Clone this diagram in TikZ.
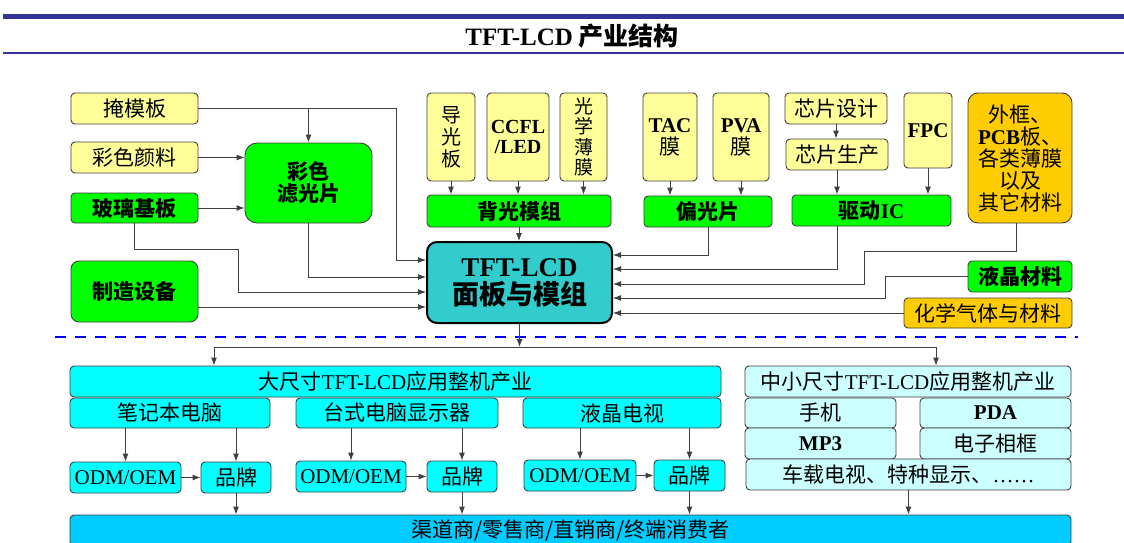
\documentclass[tikz,border=0pt]{standalone}
\usepackage{fontspec}
\setmainfont{Noto Sans CJK SC}
\newfontfamily\latfont{Liberation Serif}
\newcommand\lat[1]{{\latfont #1}}
\usetikzlibrary{arrows.meta}
\definecolor{rawyellow}{HTML}{FFFF99}
\definecolor{partgreen}{HTML}{00FF00}
\definecolor{panelteal}{HTML}{33CCCC}
\definecolor{matorange}{HTML}{FFCC00}
\definecolor{largecyan}{HTML}{00FFFF}
\definecolor{smallcyan}{HTML}{CCFFFF}
\definecolor{chancyan}{HTML}{00CCFF}
\definecolor{headblue}{HTML}{333399}
\definecolor{wire}{HTML}{404040}
\tikzset{
  box/.style={draw=black!75, line width=0.9pt, rounded corners=4pt, inner sep=0pt,
    align=center, font=\fontsize{21}{22}\selectfont},
  wh/.style 2 args={minimum width=#1pt, minimum height=#2pt},
  rawbox/.style={box, fill=rawyellow},
  partbox/.style={box, fill=partgreen, font=\fontsize{21}{22}\selectfont\bfseries},
  matbox/.style={box, fill=matorange, rounded corners=10pt},
  appbox/.style={box, fill=largecyan},
  minibox/.style={box, fill=smallcyan},
  feed/.style={draw=wire, line width=0.9pt, -{Latex[length=8pt,width=6pt]}},
}
\begin{document}
\begin{tikzpicture}[x=1pt,y=1pt]
\useasboundingbox (0,0) rectangle (1124,-543);
\clip (0,0) rectangle (1124,-543);
\fill[white] (0,0) rectangle (1124,-543);
% heading
\fill[headblue] (3,-14) rectangle (1124,-19);
\draw[headblue, line width=1.5pt] (3,-53) -- (1124,-53);
\node[font=\fontsize{25}{26}\selectfont\bfseries] (title) at (572,-36) {\lat{TFT-LCD} 产业结构};
% upstream materials
\node[rawbox, wh={127}{31}] (mask) at (134.5,-108.5) {掩模板};
\node[rawbox, wh={127}{31}] (pigment) at (134.5,-157.5) {彩色颜料};
\node[partbox, wh={127}{30}] (glass) at (134.5,-208) {玻璃基板};
\node[partbox, wh={127}{61}, rounded corners=8pt] (equip) at (134.5,-291.5) {制造设备};
\node[partbox, wh={127}{80}, rounded corners=12pt] (filter) at (308.5,-183) {彩色\\滤光片};
\node[rawbox, wh={48}{88}, font=\fontsize{20}{22}\selectfont] (guide) at (451,-137) {导\\光\\板};
\node[rawbox, wh={62}{88}, font=\fontsize{20}{20}\selectfont\latfont\bfseries] (lamp) at (518,-137) {CCFL\\/LED};
\node[rawbox, wh={47}{88}, font=\fontsize{19}{20.5}\selectfont] (optic) at (583.5,-137) {光\\学\\薄\\膜};
\node[partbox, wh={184}{32}] (backlight) at (519,-211) {背光模组};
\node[draw=black, line width=2pt, fill=panelteal, rounded corners=10pt, wh={185}{81}, align=center,
  font=\fontsize{27}{28}\selectfont\bfseries] (panel) at (519.5,-282.5) {\lat{TFT-LCD}\\面板与模组};
\node[rawbox, wh={54}{88}] (tac) at (670,-137) {\lat{\bfseries TAC}\\膜};
\node[rawbox, wh={56}{88}] (pva) at (741,-137) {\lat{\bfseries PVA}\\膜};
\node[partbox, wh={128}{31}] (polar) at (708,-211.5) {偏光片};
\node[rawbox, wh={102}{31}] (design) at (836,-108.5) {芯片设计};
\node[rawbox, wh={102}{31}] (fab) at (837,-154.5) {芯片生产};
\node[rawbox, wh={48}{75}] (fpc) at (928,-130.5) {\lat{\bfseries FPC}};
\node[partbox, wh={159}{31}] (driver) at (871.5,-210.5) {驱动\lat{IC}};
\node[matbox, wh={104}{130}] (frame) at (1020,-158) {外框、\\\lat{\bfseries PCB}板、\\各类薄膜\\以及\\其它材料};
\node[partbox, wh={104}{31}] (crystal) at (1020,-276.5) {液晶材料};
\node[matbox, rounded corners=4pt, wh={168}{30}] (gas) at (988,-313) {化学气体与材料};
% into the colour filter and the panel
\draw[feed] (mask.east) -- (396,-108.5) |- ([yshift=22.5]panel.west);
\draw[feed] (filter.north |- mask.east) -- (filter.north);
\draw[feed] (pigment.east) -- (pigment.east -| filter.west);
\draw[feed] (glass.east) -- (glass.east -| filter.west);
\draw[feed] (glass.south) |- (238,-249) |- ([yshift=-9.5]panel.west);
\draw[feed] (filter.south) |- ([yshift=5.5]panel.west);
\draw[feed] ([yshift=-15.5]equip.east) -- ([yshift=-24.5]panel.west);
\draw[feed] (guide.south) -- (guide.south |- backlight.north);
\draw[feed] (lamp.south) -- (lamp.south |- backlight.north);
\draw[feed] (optic.south) -- (optic.south |- backlight.north);
\draw[feed] (backlight.south) -- (backlight.south |- panel.north);
\draw[feed] (tac.south) -- (tac.south |- polar.north);
\draw[feed] (pva.south) -- (pva.south |- polar.north);
\draw[feed] (design.south) -- (design.south |- fab.north);
\draw[feed] (fab.south) -- (fab.south |- driver.north);
\draw[feed] (fpc.south) -- (fpc.south |- driver.north);
\draw[feed] (polar.south) |- ([yshift=27.5]panel.east);
\draw[feed] (fab.south |- driver.south) |- ([yshift=13.5]panel.east);
\draw[feed] ([xshift=-4]frame.south) |- (864,-251) |- ([yshift=-1.5]panel.east);
\draw[feed] (crystal.west) -- (885,-276.5) |- ([yshift=-15.5]panel.east);
\draw[feed] (gas.west) -- (gas.west -| panel.east);
\draw[blue, line width=2.5pt, dash pattern=on 11pt off 9pt] (55,-337) -- (1078,-337);
% downstream applications
\node[appbox, wh={651}{31}] (large) at (395.5,-381.5) {大尺寸\lat{TFT-LCD}应用整机产业};
\node[appbox, wh={200}{30}] (laptop) at (170,-413) {笔记本电脑};
\node[appbox, wh={202}{30}] (desktop) at (397,-413) {台式电脑显示器};
\node[appbox, wh={198}{30}] (tv) at (622,-413) {液晶电视};
\node[appbox, wh={111}{31}] (odma) at (125.5,-477.5) {\lat{ODM/OEM}};
\node[appbox, wh={70}{31}] (branda) at (236,-477.5) {品牌};
\node[appbox, wh={110}{31}] (odmb) at (351,-476.5) {\lat{ODM/OEM}};
\node[appbox, wh={70}{31}] (brandb) at (462,-476.5) {品牌};
\node[appbox, wh={112}{31}] (odmc) at (580,-475.5) {\lat{ODM/OEM}};
\node[appbox, wh={71}{31}] (brandc) at (689.5,-475.5) {品牌};
\node[minibox, wh={326}{31}] (small) at (908,-381.5) {中小尺寸\lat{TFT-LCD}应用整机产业};
\node[minibox, wh={151}{30}] (phone) at (820.5,-413) {手机};
\node[minibox, wh={151}{30}] (pda) at (995.5,-413) {\lat{\bfseries PDA}};
\node[minibox, wh={151}{31}] (mp3) at (820.5,-443.5) {\lat{\bfseries MP3}};
\node[minibox, wh={151}{31}] (photo) at (995.5,-443.5) {电子相框};
\node[minibox, wh={325}{31}] (other) at (908.5,-474.5) {车载电视、特种显示、\lat{……}};
\node[box, fill=chancyan, wh={1001}{31}] (channel) at (570.5,-530.5) {渠道商/零售商/直销商/终端消费者};
\coordinate (fork) at (519.5,-347);
\draw[feed] (panel.south) -- (fork);
\draw[feed] (fork) -| ([xshift=-181.5]large.north);
\draw[feed] (fork) -| ([xshift=28]small.north);
\draw[feed] (odma.north |- laptop.south) -- (odma.north);
\draw[feed] (branda.north |- laptop.south) -- (branda.north);
\draw[feed] (odmb.north |- desktop.south) -- (odmb.north);
\draw[feed] (brandb.north |- desktop.south) -- (brandb.north);
\draw[feed] (odmc.north |- tv.south) -- (odmc.north);
\draw[feed] (brandc.north |- tv.south) -- (brandc.north);
\draw[feed] (odma.east) -- (branda.west);
\draw[feed] (odmb.east) -- (brandb.west);
\draw[feed] (odmc.east) -- (brandc.west);
\draw[feed] (branda.south) -- (branda.south |- channel.north);
\draw[feed] (brandb.south) -- (brandb.south |- channel.north);
\draw[feed] (brandc.south) -- (brandc.south |- channel.north);
\draw[feed] (other.south) -- (other.south |- channel.north);
\end{tikzpicture}
\end{document}
